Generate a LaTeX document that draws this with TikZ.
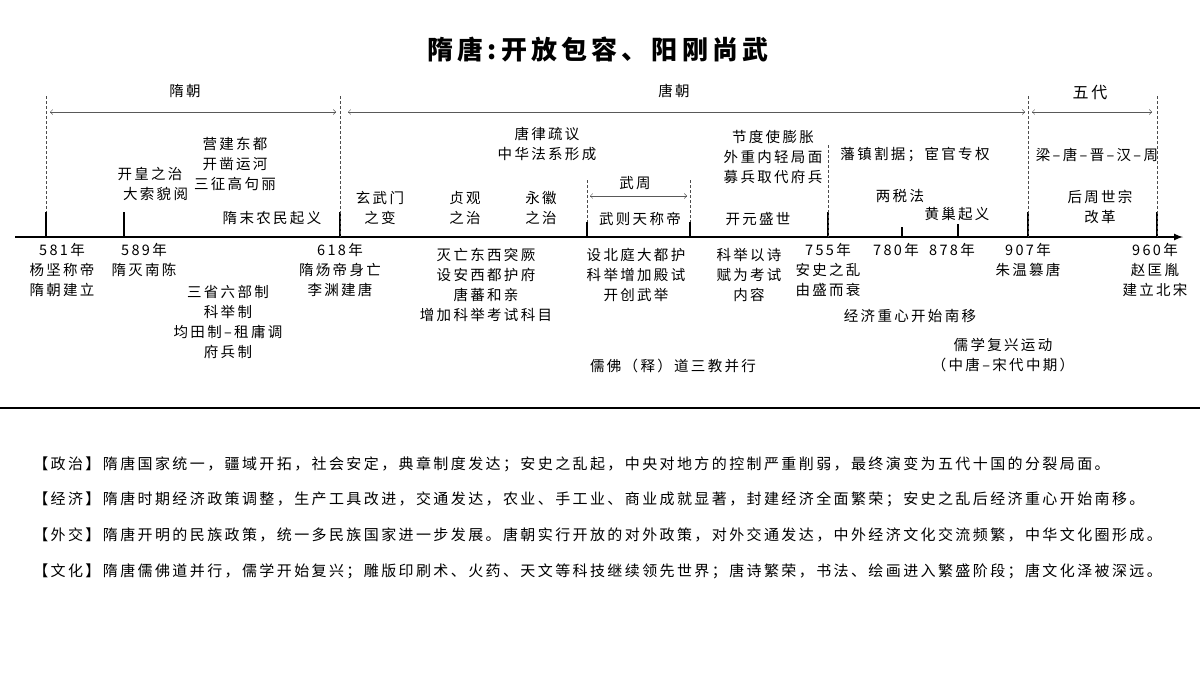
\documentclass[tikz,border=0pt]{standalone}
\usepackage{fontspec}
\setmainfont{Noto Sans CJK SC}
\newfontfamily\spacedfont[LetterSpace=16]{Noto Sans CJK SC}
\usetikzlibrary{arrows}

\begin{document}
\begin{tikzpicture}[x=1pt,y=-1pt,semithick,
  lbl/.style={font=\spacedfont\fontsize{14.5}{20}\selectfont,align=center,inner sep=1pt},
  txt/.style={font=\spacedfont\fontsize{15}{18}\selectfont,anchor=west,inner sep=0pt},
  era/.style={<->,>=angle 90,gray!70!black,thin},
  guide/.style={densely dashed,thin,gray!60!black}]
\useasboundingbox(0,0)rectangle(1200,675);
\node[font=\spacedfont\fontsize{26}{30}\selectfont\bfseries](T)at(598,50){隋唐:开放包容、阳刚尚武};
% axis and ticks
\coordinate(L)at(15,237);\coordinate(R)at(1183,237);
\draw[line width=2pt,-latex](L)--(R);
\foreach \n/\x/\h in {a/46/212,b/124/212,c/340/212,d/587/222,e/690/222,f/828/212,g/902/227,h/958/224,i/1028/212,j/1157/212}{
  \coordinate(\n0)at(\x,237);\coordinate(\n1)at(\x,\h);
  \draw[line width=1.8pt](\n0)--(\n1);}
% dashed guides
\coordinate(ta)at(46,96);\coordinate(tc)at(340,96);\coordinate(ti)at(1028,96);
\coordinate(tj)at(1157,96);\coordinate(td)at(587,180);\coordinate(te)at(690,180);
\coordinate(tf)at(828,145);
\draw[guide](ta)--(a1)(tc)--(c0)(ti)--(i0)(tj)--(j0)(td)--(d1)(te)--(e1)(tf)--(f0);
% eras
\coordinate(s1)at(50,112);\coordinate(s2)at(336,112);
\coordinate(t1)at(348,112);\coordinate(t2)at(1025,112);
\coordinate(w1)at(1032,112);\coordinate(w2)at(1152,112);
\coordinate(z1)at(590,196);\coordinate(z2)at(687,196);
\draw[era](s1)--(s2);\draw[era](t1)--(t2);\draw[era](w1)--(w2);\draw[era](z1)--(z2);
\node[lbl](sui)at(185,91){隋朝};
\node[lbl](tang)at(674,91){唐朝};
\node[lbl,font=\spacedfont\fontsize{16}{19}\selectfont](wudai)at(1090,93){五代};
\node[lbl](wuzhou)at(635,183){武周};
% above axis
\node[lbl](p1)at(150,184){开皇之治\\\ \ 大索貌阅};
\node[lbl](p2)at(235,164){营建东都\\开凿运河\\三征高句丽};
\node[lbl](p3)at(272,218){隋末农民起义};
\node[lbl](p4)at(380,208){玄武门\\之变};
\node[lbl](p5)at(465,208){贞观\\之治};
\node[lbl](p6)at(541,208){永徽\\之治};
\node[lbl](p7)at(547,144){唐律疏议\\中华法系形成};
\node[lbl](p8)at(640,219){武则天称帝};
\node[lbl](p9)at(773,157){节度使膨胀\\外重内轻局面\\募兵取代府兵};
\node[lbl](p10)at(758,219){开元盛世};
\node[lbl](p11)at(915,155){藩镇割据；宦官专权};
\node[lbl](p12)at(900,196){两税法};
\node[lbl](p13)at(957,214){黄巢起义};
\node[lbl](p14)at(1097,155){梁–唐–晋–汉–周};
\node[lbl](p15)at(1100,207){后周世宗\\改革};
% below axis
\node[lbl,anchor=north](q1)at(62,242){581年\\杨坚称帝\\隋朝建立};
\node[lbl,anchor=north](q2)at(144,242){589年\\隋灭南陈};
\node[lbl](q3)at(228,322){三省六部制\\科举制\\均田制–租庸调\\府兵制};
\node[lbl,anchor=north](q4)at(340,242){618年\\隋炀帝身亡\\李渊建唐};
\node[lbl,anchor=north](q5)at(486,247){灭亡东西突厥\\设安西都护府\\唐蕃和亲\\增加科举考试科目};
\node[lbl,anchor=north](q6)at(636,247){设北庭大都护\\科举增加殿试\\开创武举};
\node[lbl,anchor=north](q7)at(749,247){科举以诗\\赋为考试\\内容};
\node[lbl,anchor=north](q8)at(828,242){755年\\安史之乱\\由盛而衰};
\node[lbl,anchor=north](q9)at(896,242){780年};
\node[lbl,anchor=north](q10)at(952,242){878年};
\node[lbl,anchor=north](q11)at(1028,242){907年\\朱温篡唐};
\node[lbl,anchor=north](q12)at(1155,242){960年\\赵匡胤\\建立北宋};
\node[lbl](q13)at(910,316){经济重心开始南移};
\node[lbl](q14)at(1003,355){儒学复兴运动\\（中唐–宋代中期）};
\node[lbl](q15)at(673,366){儒佛（释）道三教并行};
% separator
\coordinate(m1)at(0,408);\coordinate(m2)at(1200,408);
\draw[line width=2.4pt](m1)--(m2);
% summary
\node[txt](r1)at(33,464){【政治】隋唐国家统一，疆域开拓，社会安定，典章制度发达；安史之乱起，中央对地方的控制严重削弱，最终演变为五代十国的分裂局面。};
\node[txt](r2)at(33,499){【经济】隋唐时期经济政策调整，生产工具改进，交通发达，农业、手工业、商业成就显著，封建经济全面繁荣；安史之乱后经济重心开始南移。};
\node[txt](r3)at(33,535){【外交】隋唐开明的民族政策，统一多民族国家进一步发展。唐朝实行开放的对外政策，对外交通发达，中外经济文化交流频繁，中华文化圈形成。};
\node[txt](r4)at(33,571){【文化】隋唐儒佛道并行，儒学开始复兴；雕版印刷术、火药、天文等科技继续领先世界；唐诗繁荣，书法、绘画进入繁盛阶段；唐文化泽被深远。};
\end{tikzpicture}
\end{document}
